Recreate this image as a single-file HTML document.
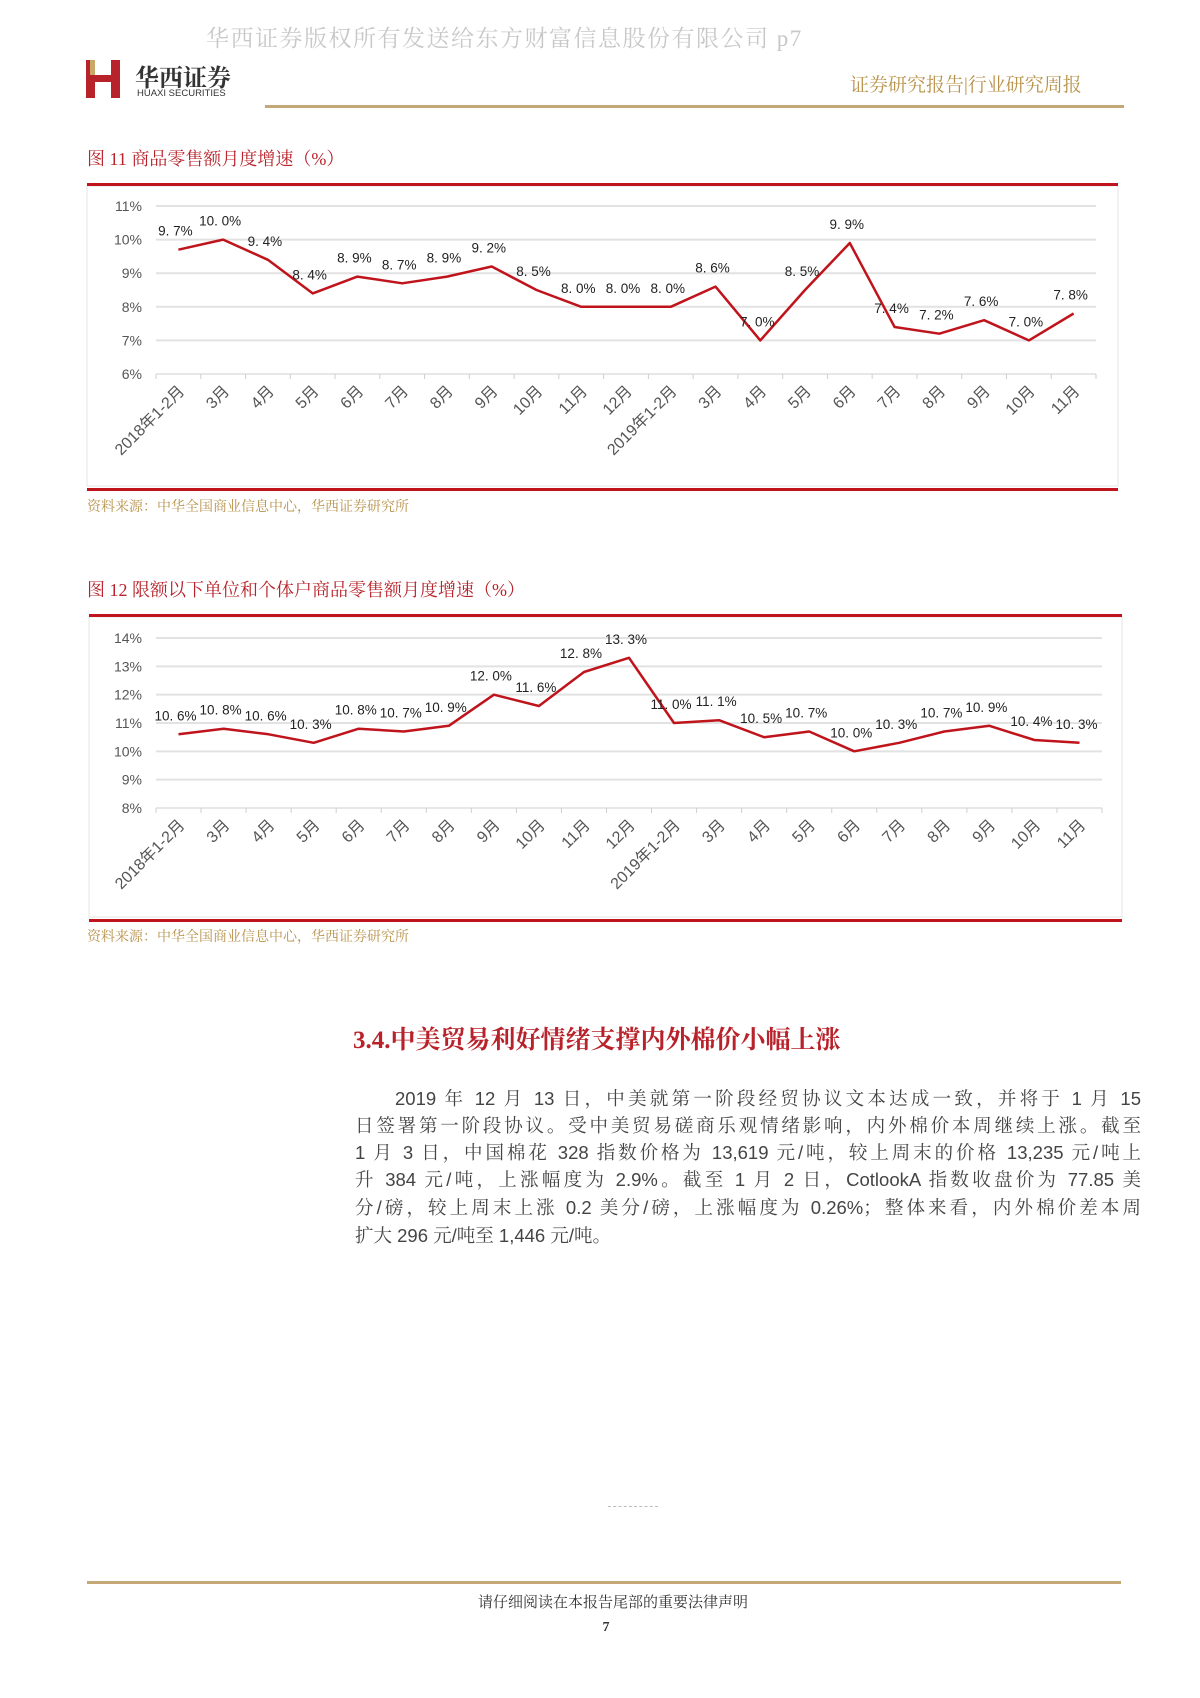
<!DOCTYPE html>
<html><head><meta charset="utf-8">
<style>
body{margin:0;background:#fff;}
#page{position:relative;width:1200px;height:1698px;overflow:hidden;background:#fff;font-family:"Liberation Sans","Noto Sans CJK SC",sans-serif;}
.abs{position:absolute;white-space:nowrap;}
.serif{font-family:"Liberation Serif","Noto Serif CJK SC",serif;}
.pl{position:absolute;left:355px;width:786px;font-size:18.5px;color:#444;text-align:justify;text-align-last:justify;white-space:nowrap;line-height:22px;font-family:"Liberation Sans","Noto Serif CJK SC",serif;}
</style></head>
<body>
<div id="page">
<div class="abs serif" style="left:206px;top:20px;font-size:23px;color:#c8c8c8;letter-spacing:1.5px;">华西证券版权所有发送给东方财富信息股份有限公司 p7</div>
<div class="abs" style="left:86px;top:60px;width:36px;height:38px;">
<div style="position:absolute;left:0;top:0;width:9px;height:38px;background:#b8232b"></div>
<div style="position:absolute;left:25px;top:0;width:9px;height:38px;background:#b8232b"></div>
<div style="position:absolute;left:0;top:15px;width:34px;height:7px;background:#b8232b"></div>
<div style="position:absolute;left:4px;top:0;width:5px;height:15px;background:#c9a86a"></div>
</div>
<div class="abs serif" style="left:135px;top:58px;font-size:24px;font-weight:bold;color:#333;">华西证券</div>
<div class="abs" style="left:137px;top:88px;font-size:9.5px;color:#333;">HUAXI SECURITIES</div>
<div class="abs serif" style="left:850px;top:70px;font-size:19px;color:#b8924a;">证券研究报告|行业研究周报</div>
<div class="abs" style="left:265px;top:105px;width:859px;height:3px;background:#c4a877"></div>

<div class="abs serif" style="left:87px;top:145px;font-size:18px;color:#b8232b;">图 11 商品零售额月度增速（%）</div>
<div class="abs serif" style="left:87px;top:576px;font-size:18px;color:#b8232b;">图 12 限额以下单位和个体户商品零售额月度增速（%）</div>
<div class="abs serif" style="left:87px;top:496px;font-size:14px;color:#b8924a;">资料来源：中华全国商业信息中心，华西证券研究所</div>
<div class="abs serif" style="left:87px;top:926px;font-size:14px;color:#b8924a;">资料来源：中华全国商业信息中心，华西证券研究所</div>

<svg class="abs" style="left:0;top:0" width="1200" height="1000" id="svg"></svg>

<div class="abs serif" style="left:353px;top:1020px;font-size:25px;font-weight:bold;color:#b8232b;">3.4.中美贸易利好情绪支撑内外棉价小幅上涨</div>
<div>
<div class="pl" style="top:1088px;left:395px;width:746px;">2019 年 12 月 13 日，中美就第一阶段经贸协议文本达成一致，并将于 1 月 15</div>
<div class="pl" style="top:1115px;">日签署第一阶段协议。受中美贸易磋商乐观情绪影响，内外棉价本周继续上涨。截至</div>
<div class="pl" style="top:1142px;">1 月 3 日，中国棉花 328 指数价格为 13,619 元/吨，较上周末的价格 13,235 元/吨上</div>
<div class="pl" style="top:1169px;">升 384 元/吨，上涨幅度为 2.9%。截至 1 月 2 日，CotlookA 指数收盘价为 77.85 美</div>
<div class="pl" style="top:1197px;">分/磅，较上周末上涨 0.2 美分/磅，上涨幅度为 0.26%；整体来看，内外棉价差本周</div>
<div class="pl" style="top:1225px;text-align-last:left;">扩大 296 元/吨至 1,446 元/吨。</div>
</div>
<div class="abs" style="left:608px;top:1506px;width:50px;border-top:1px dashed #bbb;"></div>
<div class="abs" style="left:87px;top:1581px;width:1034px;height:3px;background:#c4a877"></div>
<div class="abs serif" style="left:0;width:1226px;text-align:center;top:1591px;font-size:15px;color:#333;">请仔细阅读在本报告尾部的重要法律声明</div>
<div class="abs serif" style="left:0;width:1212px;text-align:center;top:1620px;font-size:14px;font-weight:bold;color:#333;">7</div>
</div>
<script>
var cats=["2018年1-2月","3月","4月","5月","6月","7月","8月","9月","10月","11月","12月","2019年1-2月","3月","4月","5月","6月","7月","8月","9月","10月","11月"];
var s1=[9.7,10.0,9.4,8.4,8.9,8.7,8.9,9.2,8.5,8.0,8.0,8.0,8.6,7.0,8.5,9.9,7.4,7.2,7.6,7.0,7.8];
var s2=[10.6,10.8,10.6,10.3,10.8,10.7,10.9,12.0,11.6,12.8,13.3,11.0,11.1,10.5,10.7,10.0,10.3,10.7,10.9,10.4,10.3];
var ticks1=[6,7,8,9,10,11];
var ticks2=[8,9,10,11,12,13,14];
var NS="http://www.w3.org/2000/svg",svg=document.getElementById('svg');
function mk(t,a,p){var e=document.createElementNS(NS,t);for(var k in a)e.setAttribute(k,a[k]);(p||svg).appendChild(e);return e;}
function chart(o){
 var g=mk('g',{});
 
 
 var r=mk('rect',{x:o.bx,y:o.by,width:o.bw,height:o.bh,fill:'none',stroke:'#e4e4e4','stroke-width':1},g);
 
 
 var t1=mk('rect',{x:o.bx,y:o.by-3,width:o.bw,height:3,fill:'#c0141c'},g);
 
 
 var t2=mk('rect',{x:o.bx,y:o.by+o.bh+2,width:o.bw,height:3,fill:'#c0141c'},g);
 
 
 var n=cats.length,step=(o.x1-o.x0)/n;
 function X(i){return o.x0+step*(i+0.5);}
 function Y(v){return o.y0+(o.vmax-v)*(o.y1-o.y0)/(o.vmax-o.vmin);}
 o.ticks.forEach(function(v){
  var l=mk('line',{x1:o.x0,x2:o.x1,y1:Y(v),y2:Y(v),stroke:v==o.vmin?'#cfcfcf':'#e2e2e2','stroke-width':v==o.vmin?1:2},g);
  
  
  var t=mk('text',{x:o.x0-14,y:Y(v)+5,'text-anchor':'end','font-size':14,fill:'#555','font-family':'Liberation Sans Narrow, Liberation Sans, sans-serif'},g);
  t.textContent=v+'%';
  
  
 });
 for(var i=0;i<=n;i++){var tk=mk('line',{x1:o.x0+step*i,x2:o.x0+step*i,y1:o.y1,y2:o.y1+5,stroke:'#cfcfcf'},g);
  
  }
 cats.forEach(function(c,i){
  var x=X(i)+7,y=o.y1+18;
  var t=mk('text',{x:x,y:y,'text-anchor':'end','font-size':16,fill:'#555',transform:'rotate(-45 '+x+' '+y+')','font-family':'Liberation Sans, Noto Sans CJK SC, sans-serif'},g);
  t.textContent=c;
  
  
 });
 var d=o.data.map(function(v,i){return (i?'L':'M')+X(i).toFixed(1)+' '+Y(v).toFixed(1);}).join(' ');
 var p=mk('path',{d:d,fill:'none',stroke:'#c0141c','stroke-width':2.5,'stroke-linejoin':'round'},g);
 
 
 o.data.forEach(function(v,i){
  var t=mk('text',{x:X(i)-3,y:Y(v)-14,'text-anchor':'middle','font-size':13.5,fill:'#222','font-family':'Liberation Sans Narrow, Liberation Sans, sans-serif'},g);
  t.textContent=v.toFixed(1).replace('.', '. ')+'%';
  
  
 });
}
chart({name:'retail-sales-growth-chart',data:s1,ticks:ticks1,vmin:6,vmax:11,bx:87,by:186,bw:1031,bh:300,x0:156,x1:1096,y0:206,y1:374});
chart({name:'small-retail-growth-chart',data:s2,ticks:ticks2,vmin:8,vmax:14,bx:89,by:617,bw:1033,bh:300,x0:156,x1:1102,y0:638,y1:808});
</script>
</body></html>
